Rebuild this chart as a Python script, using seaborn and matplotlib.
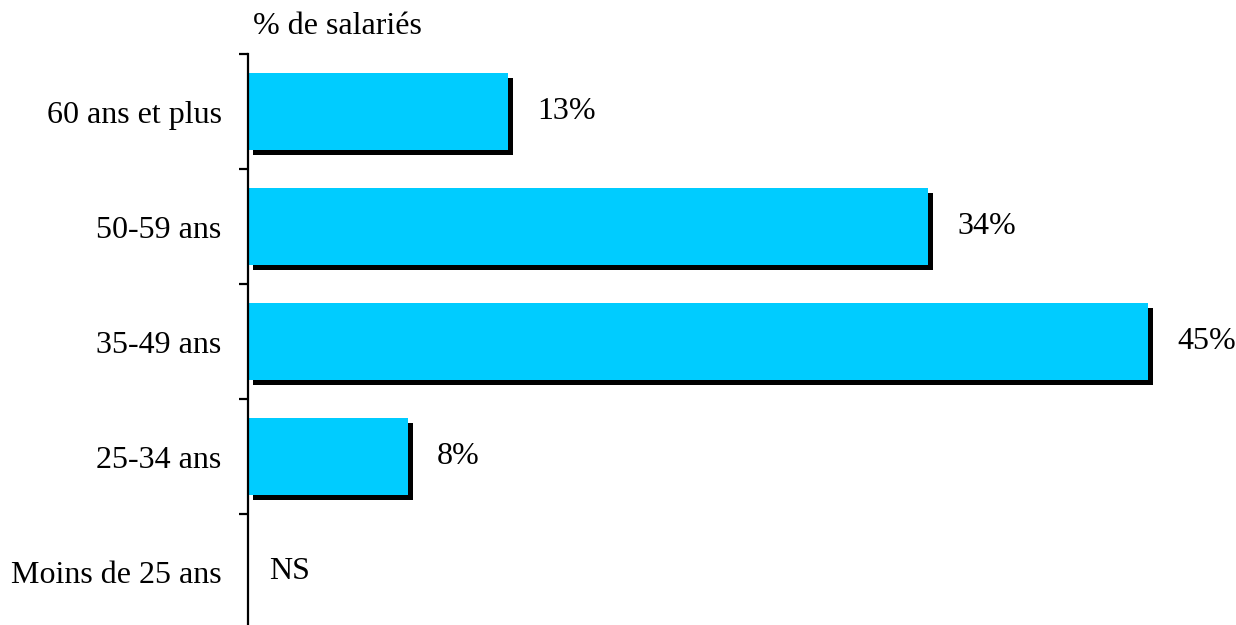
import matplotlib
matplotlib.use("Agg")
import matplotlib.pyplot as plt
import matplotlib.patheffects as pe
import seaborn as sns

# Données
categories = ["60 ans et plus", "50-59 ans", "35-49 ans", "25-34 ans", "Moins de 25 ans"]
values = [13, 34, 45, 8, 0]
value_labels = ["13%", "34%", "45%", "8%", "NS"]

sns.set_style("white")
plt.rcParams["font.family"] = ["Liberation Serif", "DejaVu Serif"]
plt.rcParams["text.color"] = "black"
plt.rcParams["ytick.color"] = "black"
plt.rcParams["ytick.labelcolor"] = "black"

fig = plt.figure(figsize=(12.36, 6.25), dpi=100)
ax = fig.add_axes([248 / 1236, 0, (1236 - 248) / 1236, 571 / 625])

sns.barplot(x=values, y=categories, color="#00CCFF", orient="h",
            width=0.67, linewidth=0, saturation=1, ax=ax)

# ombre portée noire
for p in ax.patches:
    p.set_path_effects([pe.SimplePatchShadow(offset=(3.3, -3.3), shadow_rgbFace="black", alpha=1),
                        pe.Normal()])

ax.set_xlim(0, 49.4)
ax.set_ylim(4.465, -0.5)

for i, (v, lab) in enumerate(zip(values, value_labels)):
    x = v + 1.45 if v > 0 else 1.05
    ax.text(x, i, lab, va="center", ha="left", fontsize=23, color="black")

sns.despine(ax=ax, top=True, right=True, bottom=True)
ax.spines["left"].set_linewidth(1.6)
ax.spines["left"].set_color("black")
ax.set_xticks([])
ax.set_xlabel("")
ax.set_ylabel("")
ax.set_yticks(range(len(categories)))
ax.set_yticklabels(categories, fontsize=23, color="black")
ax.tick_params(axis="y", which="major", length=0, pad=19)
ax.set_yticks([-0.5, 0.5, 1.5, 2.5, 3.5], minor=True)
ax.tick_params(axis="y", which="minor", length=6.5, width=1.6, color="black", left=True)

fig.text(253 / 1236, 1 - 27 / 625, "% de salariés", fontsize=23, va="center", ha="left", color="black")

fig.savefig("out.png", dpi=100)
